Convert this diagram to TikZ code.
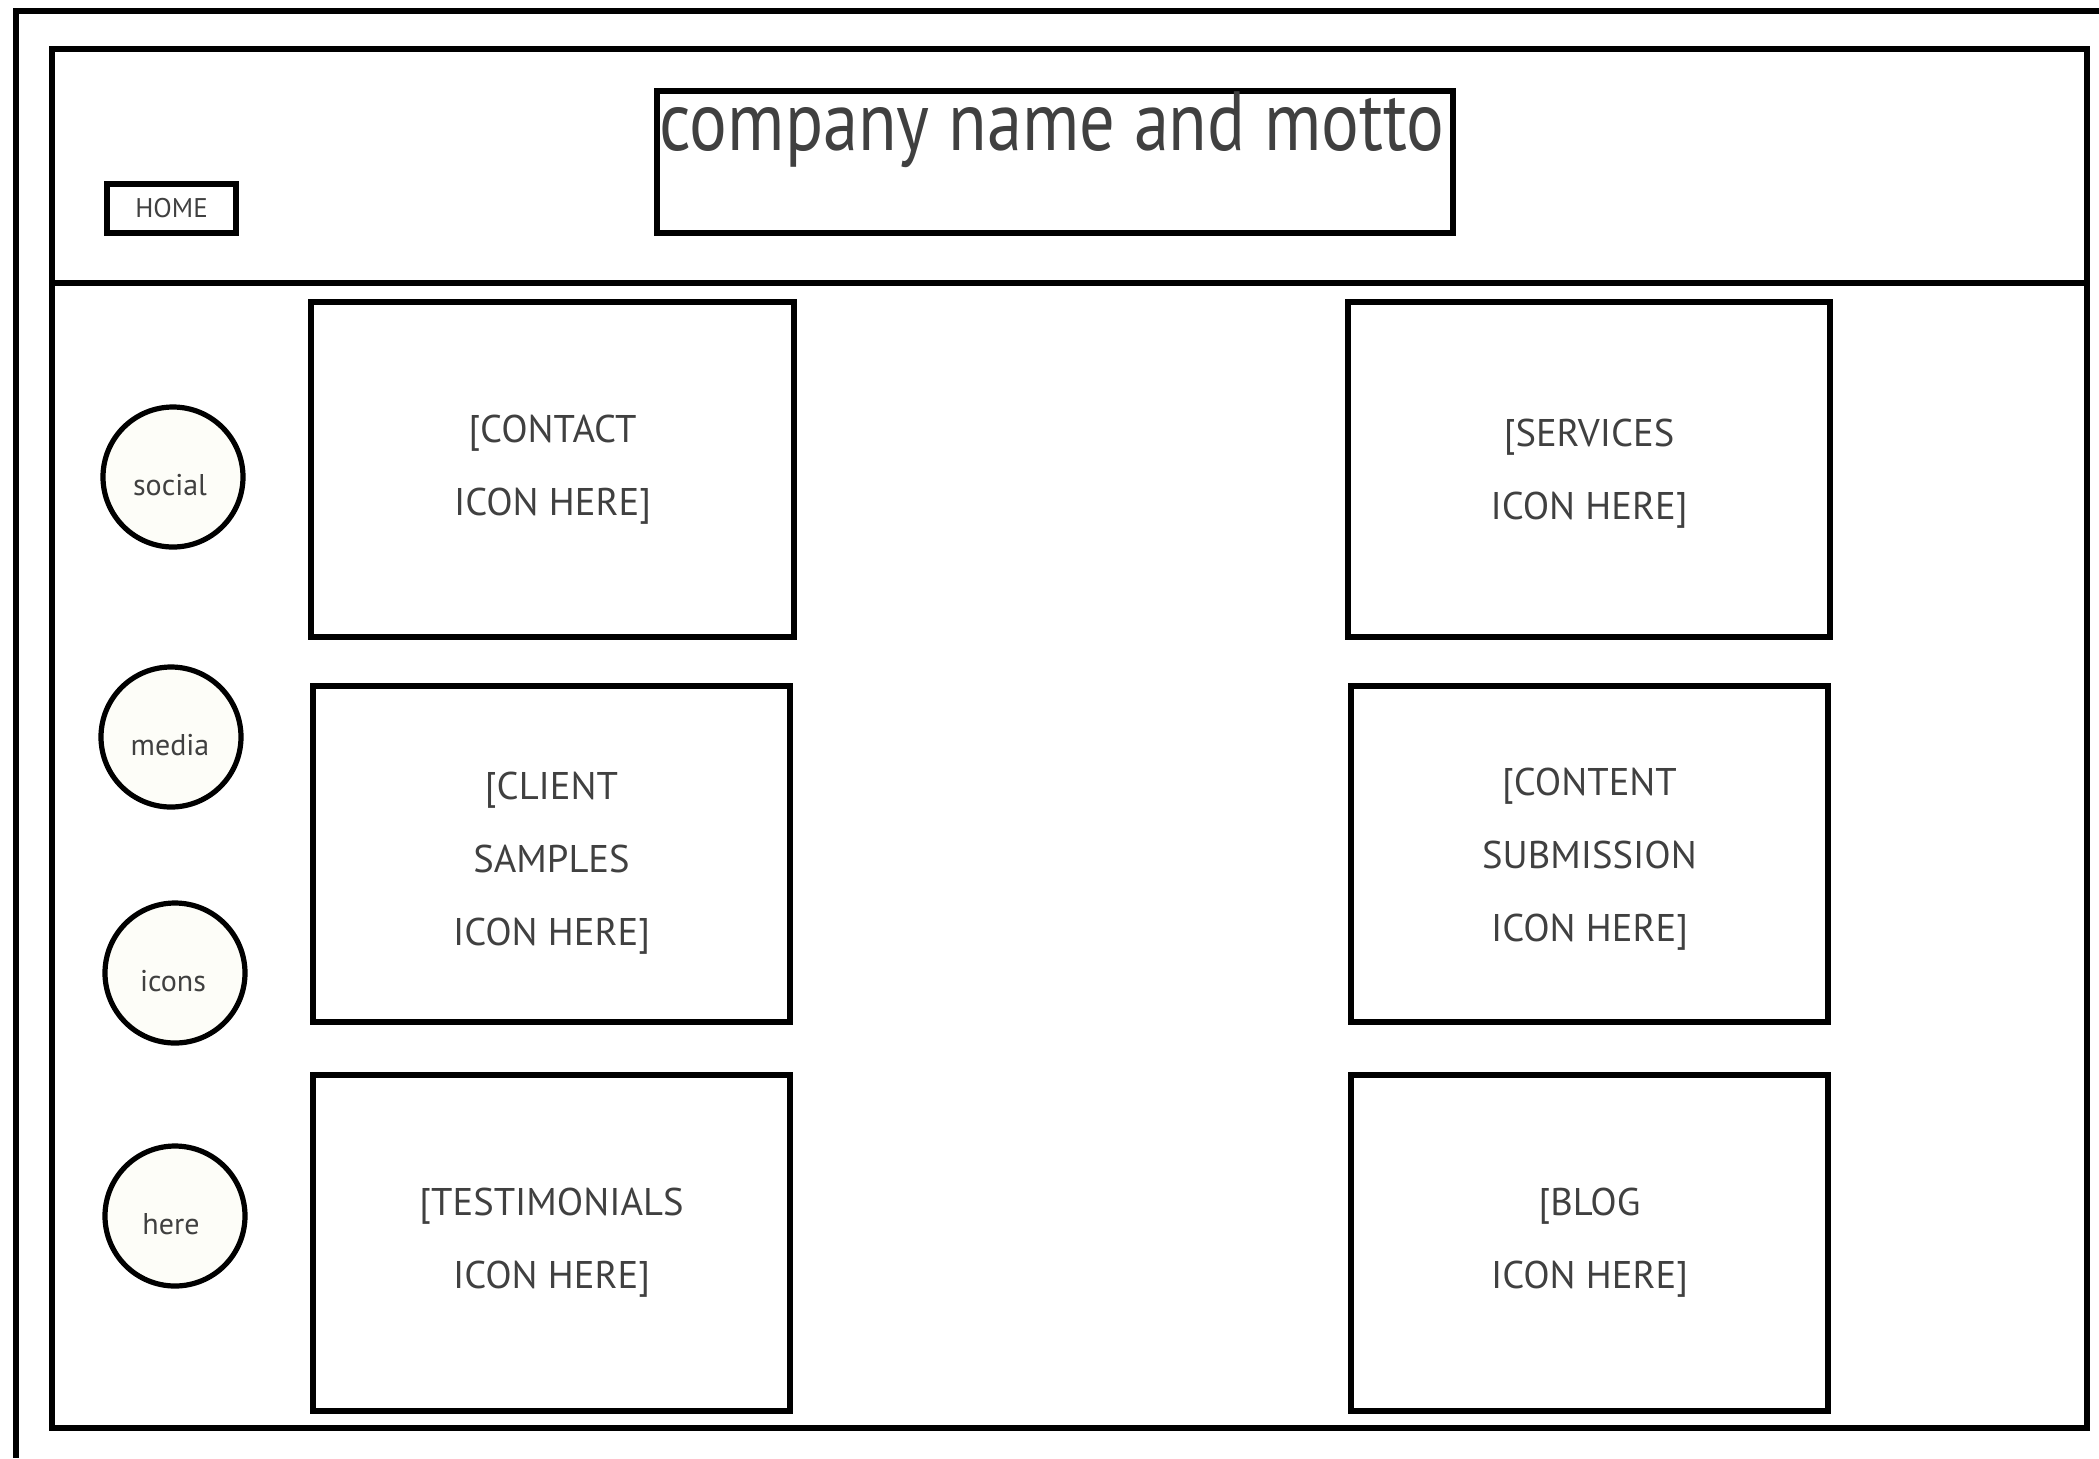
\documentclass[tikz,border=0pt]{standalone}
\usepackage{fontspec}
\setmainfont{PT Sans}
\definecolor{txt}{HTML}{404040}
\definecolor{circfill}{HTML}{FDFDF8}
\begin{document}
\begin{tikzpicture}[x=0.5pt,y=-0.5pt,
  frameline/.style={draw=black, line width=2.6pt, line join=miter},
  iconbox/.style={draw=black, line width=2.8pt, rectangle, inner sep=0pt, align=center,
    text=txt, font=\fontsize{19.3}{36.5}\selectfont},
  topbox/.style={draw=black, line width=2.6pt, rectangle, inner sep=0pt},
  soc/.style={circle, draw=black, line width=2.6pt, fill=circfill, minimum size=70pt, inner sep=0pt},
  soclabel/.style={text=txt, font=\fontsize{15}{18}\selectfont, inner sep=0pt}]
\useasboundingbox (0,0) rectangle (2099,1458);
% outer frame (open on right and bottom)
\coordinate (otr) at (2099,11);
\coordinate (otl) at (16,11);
\coordinate (obl) at (16,1458);
\draw[frameline] (otr) -- (otl) -- (obl);
% inner frame
\coordinate (itl) at (52,49);
\coordinate (ibr) at (2087,1428);
\draw[frameline] (itl) rectangle (ibr);
\coordinate (dl) at (52,283);
\coordinate (dr) at (2087,283);
\draw[frameline] (dl) -- (dr);
% header
\node[topbox, minimum width=398pt, minimum height=71pt] (title) at (1055,162) {};
\node[text=txt, font=\fontsize{42}{46}\selectfont, anchor=base, inner sep=0pt] (titletxt) at (1052,150) {\scalebox{0.84}[1]{company name and motto}};
\node[topbox, minimum width=64.5pt, minimum height=24.5pt, text=txt, font=\fontsize{13.5}{16}\selectfont] (home) at (171.5,208.5) {HOME};
% social circles
\node[soc] (social) at (173,477) {};
\node[soc] (media) at (171,737) {};
\node[soc] (icons) at (175,973) {};
\node[soc] (here) at (175,1216) {};
\node[soclabel] (socialt) at (170,485) {social};
\node[soclabel] (mediat) at (170,745) {media};
\node[soclabel] (iconst) at (173,981) {icons};
\node[soclabel] (heret) at (171,1224) {here};
% icon boxes
\node[iconbox, minimum width=241.5pt, minimum height=167.5pt] (contact) at (552.5,469.5) {[CONTACT\\ICON HERE]};
\node[iconbox, minimum width=241pt, minimum height=167.5pt] (services) at (1589,469.5) {\rule{0pt}{17.5pt}[SERVICES\\ICON HERE]};
\node[iconbox, minimum width=238.5pt, minimum height=168pt] (client) at (551.5,854) {\rule{0pt}{22.5pt}[CLIENT\\SAMPLES\\ICON HERE]};
\node[iconbox, minimum width=238.5pt, minimum height=168pt] (content) at (1589.5,854) {\rule{0pt}{18.5pt}[CONTENT\\SUBMISSION\\ICON HERE]};
\node[iconbox, minimum width=238.5pt, minimum height=168pt] (testimonials) at (551.5,1243) {[TESTIMONIALS\\ICON HERE]};
\node[iconbox, minimum width=238.5pt, minimum height=168pt] (blog) at (1589.5,1243) {[BLOG\\ICON HERE]};
\end{tikzpicture}
\end{document}
